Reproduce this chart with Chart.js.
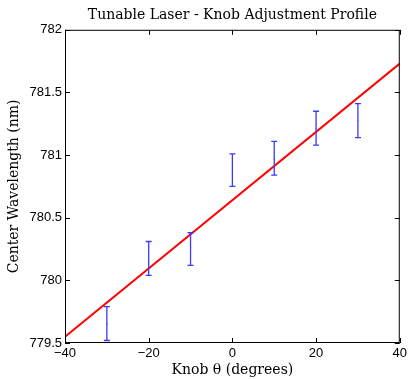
<!DOCTYPE html>
<html lang="en">
<head>
<meta charset="UTF-8">
<title>Tunable Laser</title>
<script src="https://cdn.jsdelivr.net/npm/chart.js@4/dist/chart.umd.min.js"></script>
<style>
    body { margin: 0; background: #fff; }
    #wrap { width: 410px; height: 379px; }
</style>
</head>
<body>
<div id="wrap"><canvas id="myChart" width="410" height="379"></canvas></div>
<script>
    // measured knob positions and wavelength spread
    const knob     = [-30, -20, -10, 0, 10, 20, 30]
    const waveLow  = [779.52, 780.04, 780.12, 780.75, 780.84, 781.08, 781.14]
    const waveHigh = [779.79, 780.31, 780.38, 781.01, 781.11, 781.35, 781.41]
    const waveMean = [779.65, 780.17, 780.25, 780.88, 780.97, 781.21, 781.28]

    // linear fit, end points
    const fitX = [-40, 40]
    const fitY = [779.55, 781.73]

    const xTicks = [-40, -20, 0, 20, 40]
    const yTicks = [779.5, 780, 780.5, 781, 781.5, 782]

    const minus = (v) => String(v).replace('-', '\u2212')

    const frame = {
        id: 'frame',
        afterDatasetsDraw(chart) {
            const ctx = chart.ctx
            const a = chart.chartArea
            const xs = chart.scales.x, ys = chart.scales.y

            // error bars
            ctx.save()
            ctx.strokeStyle = '#3b3bf5'
            ctx.lineWidth = 1.3
            knob.forEach((k, i) => {
                const px = xs.getPixelForValue(k)
                const top = ys.getPixelForValue(waveHigh[i])
                const bot = ys.getPixelForValue(waveLow[i])
                ctx.beginPath()
                ctx.moveTo(px, top); ctx.lineTo(px, bot)
                ctx.moveTo(px - 3, top); ctx.lineTo(px + 3, top)
                ctx.moveTo(px - 3, bot); ctx.lineTo(px + 3, bot)
                ctx.stroke()
            })
            ctx.restore()

            // box and inward ticks
            ctx.save()
            ctx.strokeStyle = '#000'
            ctx.lineWidth = 1
            ctx.strokeRect(a.left + 0.5, a.top + 0.5, a.right - a.left - 1, a.bottom - a.top - 1)
            ctx.beginPath()
            xTicks.forEach(v => {
                const px = Math.round(xs.getPixelForValue(v)) + 0.5
                ctx.moveTo(px, a.bottom); ctx.lineTo(px, a.bottom - 5)
                ctx.moveTo(px, a.top); ctx.lineTo(px, a.top + 5)
            })
            yTicks.forEach(v => {
                const py = Math.round(ys.getPixelForValue(v)) + 0.5
                ctx.moveTo(a.left, py); ctx.lineTo(a.left + 5, py)
                ctx.moveTo(a.right, py); ctx.lineTo(a.right - 5, py)
            })
            ctx.stroke()
            ctx.restore()
        }
    }

    const chart = new Chart('myChart', {
        type: 'scatter',
        data: {
            datasets: [{
                label: 'fit',
                data: fitX.map((x, i) => ({ x: x, y: fitY[i] })),
                showLine: true,
                borderColor: '#ff0000',
                borderWidth: 2,
                pointRadius: 0,
                fill: false
            }, {
                label: 'mean',
                data: knob.map((x, i) => ({ x: x, y: waveMean[i] })),
                showLine: false,
                backgroundColor: '#3b3bf5',
                borderColor: '#3b3bf5',
                pointRadius: 0.6,
                borderWidth: 0
            }]
        },
        options: {
            responsive: false,
            animation: false,
            layout: { padding: { right: 9, bottom: 0, left: 0 } },
            plugins: {
                legend: { display: false },
                tooltip: { enabled: false },
                title: {
                    display: true,
                    fullSize: false,
                    text: 'Tunable Laser - Knob Adjustment Profile',
                    color: '#000',
                    font: { family: 'DejaVu Serif', size: 14, weight: 'normal' },
                    padding: { top: 7, bottom: 6 }
                }
            },
            scales: {
                x: {
                    type: 'linear',
                    min: -40, max: 40,
                    afterBuildTicks: (s) => { s.ticks = xTicks.map(v => ({ value: v })) },
                    afterFit: (s) => { s.height = 36 },
                    grid: { display: false, drawTicks: false },
                    border: { display: false },
                    ticks: {
                        color: '#000',
                        padding: 3,
                        font: { family: 'Liberation Sans', size: 13 },
                        callback: (v) => minus(v)
                    },
                    title: {
                        display: true,
                        text: 'Knob \u03b8 (degrees)',
                        color: '#000',
                        font: { family: 'DejaVu Serif', size: 14 },
                        padding: { top: 0, bottom: 0 }
                    }
                },
                y: {
                    type: 'linear',
                    min: 779.5, max: 782,
                    afterBuildTicks: (s) => { s.ticks = yTicks.map(v => ({ value: v })) },
                    afterFit: (s) => { s.width = 65 },
                    grid: { display: false, drawTicks: false },
                    border: { display: false },
                    ticks: {
                        color: '#000',
                        padding: 3,
                        font: { family: 'Liberation Sans', size: 13 },
                        callback: (v) => String(v)
                    },
                    title: {
                        display: true,
                        text: 'Center Wavelength (nm)',
                        color: '#000',
                        font: { family: 'DejaVu Serif', size: 14 },
                        padding: { top: 6, bottom: 0 }
                    }
                }
            }
        },
        plugins: [frame]
    })
</script>
</body>
</html>
